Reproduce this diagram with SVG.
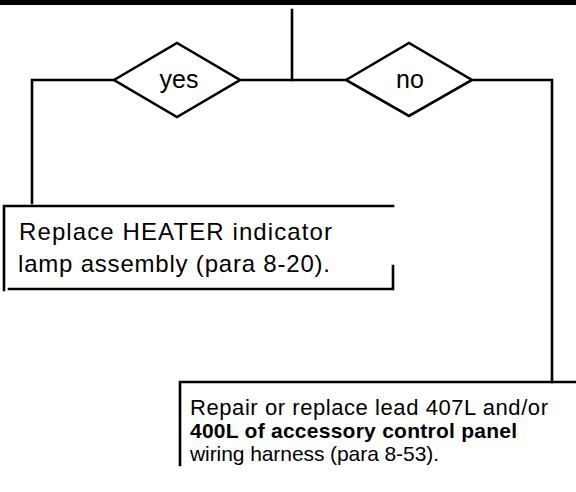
<svg xmlns="http://www.w3.org/2000/svg" width="576" height="492" viewBox="0 0 576 492">
<style>
.ln{fill:none;stroke:#000;stroke-width:2.6;stroke-linecap:square}
.dm{fill:#fff;stroke:#000;stroke-width:2.6;stroke-linejoin:miter}
.lb{font-family:"Liberation Sans",Arial,sans-serif;font-size:25px;fill:#000;text-anchor:middle}
.tx{font-family:"Liberation Sans",Arial,sans-serif;font-size:24px;fill:#000}
.tr{font-family:"Liberation Sans",Arial,sans-serif;font-size:22px;fill:#000}
.ts{font-family:"Liberation Sans",Arial,sans-serif;font-size:21px;fill:#000}
.tb{font-family:"Liberation Sans",Arial,sans-serif;font-size:21px;fill:#000;font-weight:bold}
</style>
<rect x="0" y="0" width="576" height="5" fill="#000"/>
<g id="connectors">
<path class="ln" d="M292,10 V80"/>
<path class="ln" d="M240,80 H346"/>
<path class="ln" d="M114,80 H32 V203"/>
<path class="ln" d="M472,80 H552 V382"/>
</g>
<g id="yes">
<polygon class="dm" points="114,80 177,43 240,80 177,117"/>
<text class="lb" x="179" y="88">yes</text>
</g>
<g id="no">
<polygon class="dm" points="346,80 409,43 472,80 409,116"/>
<text class="lb" x="410" y="88">no</text>
</g>
<g id="box1">
<path class="ln" d="M4,290 V206 H393"/>
<path class="ln" d="M9,289 H393 V266"/>
<text class="tx" x="19" y="240" textLength="313" lengthAdjust="spacing">Replace HEATER indicator</text>
<text class="tx" x="18" y="272" textLength="312" lengthAdjust="spacing">lamp assembly (para 8-20).</text>
</g>
<g id="box2">
<path class="ln" d="M180,465 V382 H576"/>
<text class="tr" x="190" y="415" textLength="358" lengthAdjust="spacing">Repair or replace lead 407L and/or</text>
<text class="tb" x="190" y="438" textLength="327" lengthAdjust="spacing">400L of accessory control panel</text>
<text class="ts" x="190" y="461" textLength="249" lengthAdjust="spacing">wiring harness (para 8-53).</text>
</g>
</svg>
